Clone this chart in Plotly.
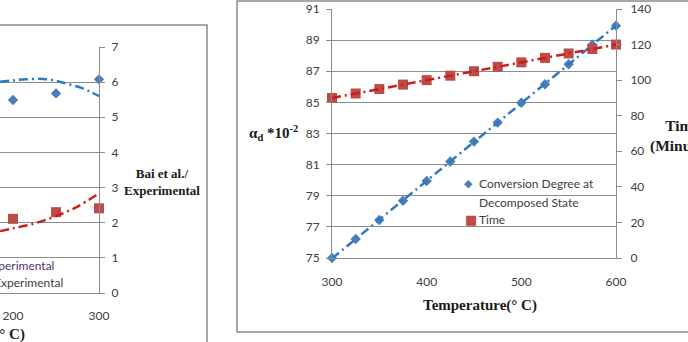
import numpy as np
import plotly.graph_objects as go

W, H = 688, 342

# ---------------- data ----------------
# left (partially visible) chart
left_x = [200, 250, 300]
left_bai = [5.49, 5.68, 6.08]
left_model = [2.11, 2.30, 2.41]
left_bai_trend_x = [185, 200, 215, 235, 250, 265, 280, 290, 300]
left_bai_trend_y = [6.01, 6.05, 6.08, 6.09, 6.04, 5.94, 5.83, 5.73, 5.60]
left_model_trend_x = [185, 200, 225, 250, 275, 300]
left_model_trend_y = [1.76, 1.84, 1.98, 2.19, 2.46, 2.84]

# right chart
temperature = [300, 325, 350, 375, 400, 425, 450, 475, 500, 525, 550, 575, 600]
conversion = [75.0, 76.22, 77.44, 78.68, 79.95, 81.2, 82.48, 83.7, 84.98, 86.16, 87.45, 88.7, 89.93]
time_min = [90, 92.5, 95, 97.5, 100, 102.5, 105, 107.5, 110, 112.5, 115, 117.5, 120]

# ---------------- styles ----------------
GRID = "#8c8c8c"
BLUE_M = "#4a7ebb"
RED_M = "#be4b48"
BLUE_T = "#2a7ac6"
RED_T = "#c81e1e"
TICKFONT = dict(family="Lato, 'Open Sans', sans-serif", size=12, color="#404040")
TITLEFONT = dict(family="'Liberation Serif', 'Times New Roman', serif", size=15, color="#1a1a1a")
DASH = "9px,4px,2px,4px"


def px(x):
    return x / W


def py(y):
    return 1 - y / H


fig = go.Figure()

# ---- left chart ----
fig.add_trace(go.Scatter(x=left_x, y=left_bai, mode="markers", xaxis="x", yaxis="y",
                         marker=dict(symbol="diamond", size=8, color=BLUE_M),
                         cliponaxis=False, showlegend=False))
fig.add_trace(go.Scatter(x=left_x, y=left_model, mode="markers", xaxis="x", yaxis="y",
                         marker=dict(symbol="square", size=10, color=RED_M),
                         cliponaxis=False, showlegend=False))
fig.add_trace(go.Scatter(x=left_bai_trend_x, y=left_bai_trend_y, mode="lines", xaxis="x", yaxis="y",
                         line=dict(color=BLUE_T, width=2.5, dash=DASH, shape="spline"),
                         showlegend=False))
fig.add_trace(go.Scatter(x=left_model_trend_x, y=left_model_trend_y, mode="lines", xaxis="x", yaxis="y",
                         line=dict(color=RED_T, width=2.5, dash=DASH, shape="spline"),
                         showlegend=False))

# ---- right chart ----
fig.add_trace(go.Scatter(x=temperature, y=conversion, mode="markers", xaxis="x2", yaxis="y2",
                         marker=dict(symbol="diamond", size=8, color=BLUE_M),
                         cliponaxis=False, showlegend=False))
fig.add_trace(go.Scatter(x=temperature, y=time_min, mode="markers", xaxis="x2", yaxis="y3",
                         marker=dict(symbol="square", size=10, color=RED_M),
                         cliponaxis=False, showlegend=False))
tx = np.array([temperature[0], temperature[-1]], dtype=float)
pc = np.polyfit(temperature, conversion, 1)
pt = np.polyfit(temperature, time_min, 1)
fig.add_trace(go.Scatter(x=tx, y=np.polyval(pc, tx), mode="lines", xaxis="x2", yaxis="y2",
                         line=dict(color=BLUE_T, width=2.5, dash=DASH), showlegend=False))
fig.add_trace(go.Scatter(x=tx, y=np.polyval(pt, tx), mode="lines", xaxis="x2", yaxis="y3",
                         line=dict(color=RED_T, width=2.5, dash=DASH), showlegend=False))

# left chart x scale: 200 at px 13, 300 at px 99
lo = 300 - 99 / 0.86

fig.update_layout(
    width=W, height=H, margin=dict(l=0, r=0, t=0, b=0, autoexpand=False),
    paper_bgcolor="white", plot_bgcolor="rgba(0,0,0,0)",
    showlegend=False,
    xaxis=dict(domain=[0, px(99)], range=[lo, 300], tick0=0, dtick=100, anchor="y",
               showgrid=False, zeroline=False, showline=True, linecolor=GRID, linewidth=1,
               ticks="", ticklabelstandoff=12, tickfont=TICKFONT, automargin=False),
    yaxis=dict(domain=[py(293), py(47)], range=[0, 7], dtick=1, side="right", anchor="x",
               showgrid=True, gridcolor=GRID, gridwidth=1, zeroline=False,
               showline=True, linecolor=GRID, linewidth=1, ticks="outside", ticklen=5,
               tickcolor=GRID, ticklabelstandoff=4, tickfont=TICKFONT, automargin=False),
    xaxis2=dict(domain=[px(332), px(616)], range=[300, 600], dtick=100, anchor="y2",
                showgrid=False, zeroline=False, showline=True, linecolor=GRID, linewidth=1,
                ticks="", ticklabelstandoff=13, tickfont=TICKFONT, automargin=False),
    yaxis2=dict(domain=[py(258), py(9)], range=[75, 91], tick0=75, dtick=2, side="left", anchor="x2",
                showgrid=True, gridcolor=GRID, gridwidth=1, zeroline=False,
                showline=True, linecolor=GRID, linewidth=1, ticks="outside", ticklen=5,
                tickcolor=GRID, ticklabelstandoff=4, tickfont=TICKFONT, automargin=False),
    yaxis3=dict(range=[0, 140], dtick=20, side="right", anchor="x2", overlaying="y2",
                showgrid=False, zeroline=False, showline=True, linecolor=GRID, linewidth=1,
                ticks="outside", ticklen=5, tickcolor=GRID, ticklabelstandoff=6, tickfont=TICKFONT,
                automargin=False),
)

# frames
fig.add_shape(type="rect", xref="paper", yref="paper",
              x0=px(-20), x1=px(207), y0=py(360), y1=py(25),
              line=dict(color="#8a8a8a", width=1.5), fillcolor="rgba(0,0,0,0)", layer="below")
fig.add_shape(type="rect", xref="paper", yref="paper",
              x0=px(237), x1=px(720), y0=py(332), y1=py(1),
              line=dict(color="#8a8a8a", width=1.5), fillcolor="rgba(0,0,0,0)", layer="below")


def ann(text, x, y, xanchor="center", font=TITLEFONT, color=None, align="center"):
    f = dict(font)
    if color:
        f["color"] = color
    fig.add_annotation(text=text, xref="paper", yref="paper", x=px(x), y=py(y),
                       xanchor=xanchor, yanchor="middle", showarrow=False, font=f, align=align)


# titles
ann("<b>Temperature(° C)</b>", 480, 305)
ann("<b>Temperature(° C)</b>", 27, 334, xanchor="right")
ann("<b>α<sub>d</sub> *10<sup>-2</sup></b>", 273, 133)
ann("<b>Time<br>(Minutes)</b>", 648, 136, xanchor="left", align="center",
    font=dict(TITLEFONT, size=15.5))
ann("<b>Bai et al./<br>Experimental</b>", 162, 182, font=dict(TITLEFONT, size=13))

# legends
LEGFONT = dict(family="Lato, 'Open Sans', sans-serif", size=12, color="#404040")
ann("Bai et al./Experimental", 56, 265, xanchor="right", font=LEGFONT, color="#5a2d72")
ann("Present Model/Experimental", 65, 282, xanchor="right", font=LEGFONT)

SYMFONT = dict(family="DejaVu Sans, sans-serif", size=11, color=BLUE_M)
ann("◆", 468, 183, font=SYMFONT)
ann("■", 471, 219, font=dict(SYMFONT, size=13), color=RED_M)
ann("Conversion Degree at", 477, 183, xanchor="left", font=LEGFONT)
ann("Decomposed State", 477, 202, xanchor="left", font=LEGFONT)
ann("Time", 477, 219, xanchor="left", font=LEGFONT)

fig.write_html("out.html",
               post_script="document.body.style.margin='0';document.body.style.overflow='hidden';")
